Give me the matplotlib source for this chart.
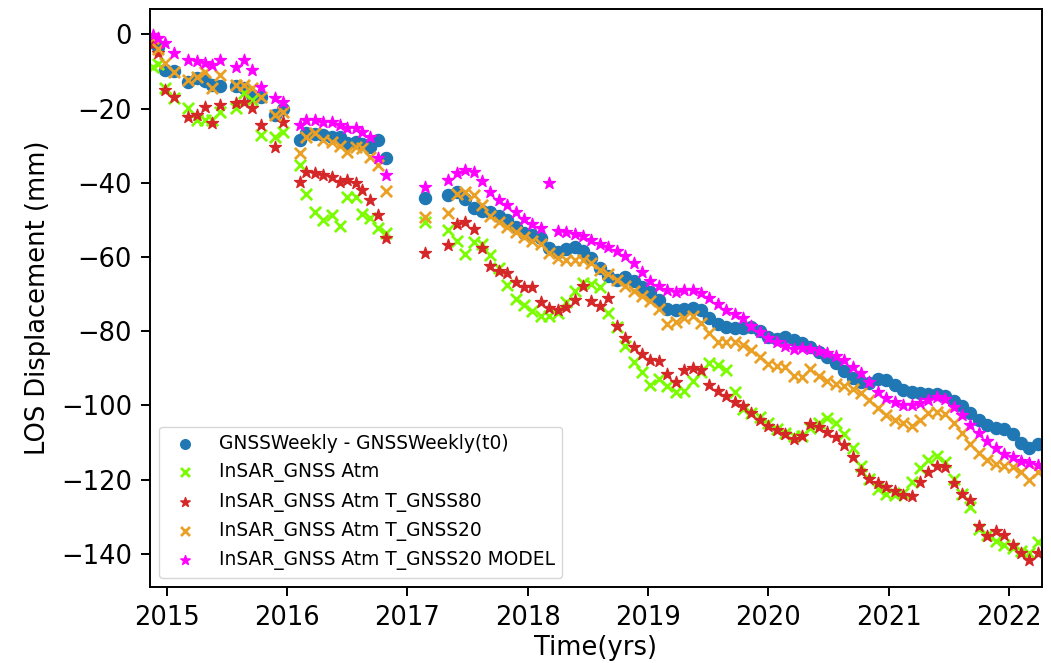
import numpy as np
import matplotlib.pyplot as plt

# acquisition dates (decimal years), early sparse part then dense part
time_early = [2014.89, 2014.93, 2014.99, 2015.06, 2015.18, 2015.25, 2015.32, 2015.38, 2015.44, 2015.58,
              2015.64, 2015.71, 2015.78, 2015.90, 2015.97, 2016.11, 2016.16, 2016.23, 2016.30, 2016.37,
              2016.44, 2016.50, 2016.57, 2016.62, 2016.69, 2016.76, 2016.82, 2017.15]
time_dense = [2017.34, 2017.41, 2017.48, 2017.55, 2017.62, 2017.69, 2017.76, 2017.83, 2017.90, 2017.97,
              2018.04, 2018.11, 2018.18, 2018.25, 2018.32, 2018.39, 2018.46, 2018.53, 2018.60, 2018.67,
              2018.74, 2018.81, 2018.88, 2018.95, 2019.02, 2019.09, 2019.16, 2019.23, 2019.30, 2019.37,
              2019.44, 2019.51, 2019.58, 2019.65, 2019.72, 2019.79, 2019.86, 2019.93, 2020.00, 2020.07,
              2020.14, 2020.21, 2020.28, 2020.35, 2020.42, 2020.49, 2020.56, 2020.63, 2020.70, 2020.77,
              2020.84, 2020.91, 2020.98, 2021.05, 2021.12, 2021.19, 2021.26, 2021.33, 2021.40, 2021.47,
              2021.54, 2021.61, 2021.68, 2021.75, 2021.82, 2021.89, 2021.96, 2022.03, 2022.10, 2022.17,
              2022.24]

# LOS displacement (mm)
gnss_weekly = [-1.5, -3.5, -9.6, -10.0, -12.8, -11.9, -12.5, -13.7, -14.0, -14.0,
               -14.5, -16.4, -17.0, -21.8, -20.0, -28.5, -26.7, -27.0, -27.1, -27.6,
               -27.6, -29.4, -29.0, -29.5, -30.3, -28.5, -33.2, -44.2,
               -43.3, -42.6, -44.5, -46.8, -47.5, -48.0, -49.0, -50.1, -52.0, -53.6,
               -54.2, -55.0, -57.5, -58.6, -57.8, -57.4, -58.5, -60.2, -63.0, -65.0,
               -66.2, -65.5, -66.5, -68.0, -69.5, -71.5, -74.0, -74.4, -74.0, -73.8,
               -74.4, -76.3, -78.0, -78.8, -79.2, -79.0, -78.8, -79.8, -81.5, -82.0,
               -81.6, -82.4, -83.3, -84.2, -85.6, -86.9, -88.6, -90.8, -92.5, -93.8,
               -93.9, -92.8, -93.0, -94.5, -95.9, -96.4, -96.7, -96.9, -97.0, -97.4,
               -98.8, -100.2, -102.0, -103.8, -105.2, -106.1, -106.2, -107.8, -110.0, -111.5,
               -110.4]

insar_atm = [-8.7, -8.0, -14.6, -17.3, -19.9, -23.1, -23.1, -23.1, -20.9, -19.9,
             -15.9, -17.6, -27.1, -27.6, -26.3, -35.2, -42.9, -47.8, -50.1, -48.7,
             -51.7, -43.9, -43.9, -48.3, -49.6, -52.3, -53.6, -50.5,
             -52.7, -55.8, -59.2, -56.0, -56.5, -59.5, -63.0, -67.5, -71.2, -73.0,
             -74.6, -76.0, -75.8, -75.0, -72.2, -69.2, -67.1, -67.4, -68.0, -75.0,
             -78.8, -84.0, -88.2, -91.0, -94.5, -92.9, -94.8, -96.5, -96.0, -93.5,
             -91.0, -88.5, -89.0, -90.5, -96.5, -101.0, -102.0, -103.0, -104.8, -106.2,
             -107.3, -108.2, -108.3, -106.0, -104.6, -103.3, -104.8, -107.8, -111.5, -116.4,
             -119.8, -122.5, -123.8, -124.0, -123.6, -120.5, -116.8, -114.8, -113.6, -115.2,
             -119.8, -123.8, -127.3, -133.4, -135.0, -136.6, -137.6, -138.3, -139.2, -139.8,
             -136.8]

insar_t80 = [-2.5, -5.1, -15.0, -16.8, -22.2, -21.8, -19.5, -24.0, -19.1, -18.6,
             -18.2, -19.9, -24.4, -30.3, -23.6, -39.7, -37.0, -37.5, -37.9, -38.4,
             -39.7, -39.3, -40.2, -42.0, -44.7, -48.7, -55.0, -59.0,
             -56.8, -51.0, -50.5, -52.4, -57.5, -62.5, -63.8, -64.4, -66.8, -68.0,
             -68.2, -72.0, -73.8, -74.2, -73.5, -71.5, -67.8, -71.8, -73.2, -71.0,
             -78.5, -81.8, -84.2, -86.2, -87.8, -87.9, -91.5, -93.6, -90.5, -89.8,
             -90.5, -94.6, -96.0, -97.5, -99.0, -100.2, -102.0, -104.0, -105.4, -106.7,
             -107.8, -109.0, -108.2, -104.9, -105.8, -107.2, -108.6, -110.6, -113.8, -117.6,
             -119.8, -121.0, -121.9, -123.0, -124.0, -124.4, -120.6, -118.0, -116.2, -116.5,
             -121.0, -123.8, -125.5, -132.5, -135.2, -133.9, -134.8, -137.6, -139.8, -141.5,
             -139.8]

insar_t20 = [-1.1, -4.0, -7.8, -10.1, -12.3, -11.4, -10.1, -14.6, -11.0, -13.7,
             -13.7, -14.6, -16.8, -21.8, -20.9, -32.1, -27.6, -26.5, -28.5, -29.0,
             -30.0, -31.6, -30.3, -30.7, -33.0, -35.2, -42.2, -49.2,
             -48.2, -42.9, -42.4, -43.3, -46.0, -49.0, -50.7, -51.9, -53.2, -54.6,
             -55.6, -56.5, -58.8, -60.2, -60.7, -60.8, -60.7, -61.7, -63.5, -64.6,
             -66.2, -67.8, -69.2, -70.5, -71.8, -74.0, -78.0, -77.6, -76.5, -75.8,
             -77.8, -80.5, -82.9, -82.8, -82.9, -83.8, -85.0, -87.0, -88.9, -89.3,
             -89.7, -92.0, -92.3, -90.2, -92.0, -93.4, -94.1, -94.8, -95.5, -96.6,
             -98.5, -100.6, -102.5, -103.8, -104.8, -105.6, -104.0, -102.0, -101.8, -102.4,
             -104.8, -107.3, -110.5, -112.8, -114.8, -115.7, -116.2, -116.6, -118.0, -120.2,
             -118.0]

insar_t20_model = [-0.2, -1.0, -2.4, -5.1, -6.9, -7.3, -7.8, -8.2, -6.9, -8.7,
                   -6.9, -9.6, -14.1, -17.3, -18.2, -24.4, -23.1, -23.1, -23.6, -23.6,
                   -24.4, -25.3, -25.3, -26.3, -27.6, -33.4, -37.9, -41.1,
                   -39.3, -37.5, -36.6, -37.2, -39.5, -42.5, -44.6, -46.0, -48.0, -49.8,
                   -51.2, -52.1, -40.2, -53.0, -53.3, -53.8, -54.3, -55.5, -56.5, -57.4,
                   -58.4, -59.8, -61.7, -64.0, -66.5, -67.9, -69.0, -69.4, -69.0, -69.0,
                   -69.8, -71.0, -72.7, -74.2, -75.3, -76.5, -78.5, -80.3, -81.7, -82.9,
                   -84.0, -84.7, -84.6, -84.7, -85.2, -85.8, -86.7, -87.8, -89.5, -91.3,
                   -93.8, -96.3, -98.0, -99.1, -99.8, -99.8, -99.2, -98.5, -97.8, -98.3,
                   -100.4, -102.6, -105.2, -107.4, -109.6, -111.5, -113.0, -114.0, -115.0, -115.6,
                   -116.0]

t = np.array(time_early + time_dense)

fig = plt.figure(figsize=(10.51, 6.63), dpi=100)
ax = fig.add_axes([0.1427, 0.1146, 0.8487, 0.8718])

ax.scatter(t, gnss_weekly, s=75, marker='o', color='#1f77b4',
           label='GNSSWeekly - GNSSWeekly(t0)')
ax.scatter(t, insar_atm, s=65, marker='x', color='#7cfc00', linewidths=2,
           label='InSAR_GNSS Atm')
ax.scatter(t, insar_t80, s=80, marker='*', color='#d62728',
           label='InSAR_GNSS Atm T_GNSS80')
ax.scatter(t, insar_t20, s=65, marker='x', color='#eaa025', linewidths=2,
           label='InSAR_GNSS Atm T_GNSS20')
ax.scatter(t, insar_t20_model, s=80, marker='*', color='#ff00ff',
           label='InSAR_GNSS Atm T_GNSS20 MODEL')

ax.set_xlim(2014.861, 2022.274)
ax.set_ylim(-148.9, 6.8)
ax.set_xticks(range(2015, 2023))
ax.set_yticks(range(-140, 1, 20))
ax.tick_params(labelsize=18.5, length=6.5, width=1.4, pad=6.5)
for sp in ax.spines.values():
    sp.set_linewidth(1.4)
ax.set_xlabel('Time(yrs)', fontsize=18.5, labelpad=2.5)
ax.set_ylabel('LOS Displacement (mm)', fontsize=18.5, labelpad=7)
ax.legend(loc='lower left', fontsize=13.4, markerscale=0.8)

fig.savefig('out.png', dpi=100)
